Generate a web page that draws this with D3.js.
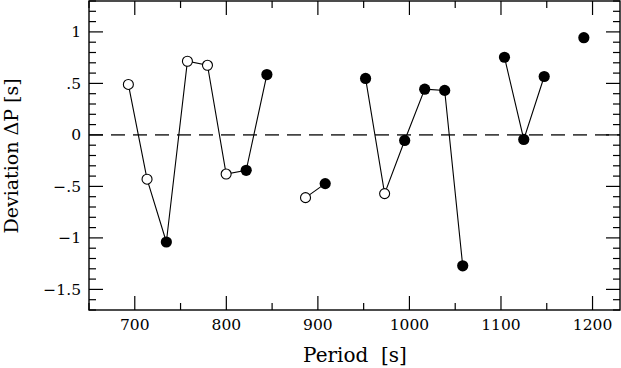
<!DOCTYPE html>
<html>
<head>
<meta charset="utf-8">
<script src="https://cdn.jsdelivr.net/npm/d3@7"></script>
<style>
  body { margin: 0; background: #fff; }
  svg { display: block; }
  text { font-family: "DejaVu Serif", serif; fill: #000; }
</style>
</head>
<body>
<svg id="chart"></svg>
<script>
// period [s], deviation [s], open marker flag, connected segment id
const periods = [693, 713.4, 734.5, 757.5, 779.4, 799.8, 821.7, 844.3,
  886.5, 908, 952.1, 972.9, 994.8, 1016.7, 1038.5, 1058.2,
  1103.8, 1124.9, 1147.2, 1190.5];
const deviations = [0.49, -0.43, -1.04, 0.715, 0.676, -0.38, -0.344, 0.586,
  -0.609, -0.473, 0.548, -0.57, -0.054, 0.444, 0.432, -1.271,
  0.754, -0.044, 0.567, 0.944];
const isOpen = [1, 1, 0, 1, 1, 1, 0, 0,
  1, 0, 0, 1, 0, 0, 0, 0,
  0, 0, 0, 0];
const segment = [0, 0, 0, 0, 0, 0, 0, 0,
  1, 1, 2, 2, 2, 2, 2, 2,
  3, 3, 3, 4];

const xTicks = [700, 800, 900, 1000, 1100, 1200];
const yTicks = [-1.5, -1, -0.5, 0, 0.5, 1];
const yTickLabels = ['\u22121.5', '\u22121', '\u2212.5', '0', '.5', '1'];

const width = 621;
const height = 368;
const margin = { left: 89, right: 1, top: 1, bottom: 58 };

const svg = d3.select('#chart')
  .attr('width', width)
  .attr('height', height);

const x = d3.scaleLinear()
  .domain([650, 1230])
  .range([margin.left, width - margin.right]);

const y = d3.scaleLinear()
  .domain([-1.7, 1.3])
  .range([height - margin.bottom, margin.top]);

const points = periods.map((p, i) => ({
  p, d: deviations[i], open: isOpen[i] === 1, seg: segment[i],
}));

// zero line
svg.append('line')
  .attr('x1', x.range()[0])
  .attr('x2', x.range()[1])
  .attr('y1', y(0))
  .attr('y2', y(0))
  .attr('stroke', '#444')
  .attr('stroke-width', 1.6)
  .attr('stroke-dasharray', '14,8');

// connecting lines
const line = d3.line()
  .x((d) => x(d.p))
  .y((d) => y(d.d));

const groups = d3.groups(points, (d) => d.seg);
svg.append('g')
  .selectAll('path')
  .data(groups)
  .join('path')
  .attr('d', (g) => line(g[1]))
  .attr('fill', 'none')
  .attr('stroke', '#000')
  .attr('stroke-width', 1.1);

// markers
svg.append('g')
  .selectAll('circle')
  .data(points)
  .join('circle')
  .attr('cx', (d) => x(d.p))
  .attr('cy', (d) => y(d.d))
  .attr('r', (d) => (d.open ? 5 : 5.6))
  .attr('fill', (d) => (d.open ? '#fff' : '#000'))
  .attr('stroke', '#000')
  .attr('stroke-width', (d) => (d.open ? 1.1 : 0));

// axes, ticks inward on all four sides
const xMinor = d3.range(650, 1231, 50);
const yMinor = d3.range(-17, 14).map((v) => v / 10);
const major = 14;
const minor = 7;

const axisG = svg.append('g').attr('stroke', '#000').attr('stroke-width', 1.2);

const addX = (vals, len) => {
  vals.forEach((v) => {
    [[y.range()[0], -len], [y.range()[1], len]].forEach(([yy, dl]) => {
      axisG.append('line')
        .attr('x1', x(v)).attr('x2', x(v))
        .attr('y1', yy).attr('y2', yy + dl);
    });
  });
};
const addY = (vals, len) => {
  vals.forEach((v) => {
    [[x.range()[0], len], [x.range()[1], -len]].forEach(([xx, dl]) => {
      axisG.append('line')
        .attr('y1', y(v)).attr('y2', y(v))
        .attr('x1', xx).attr('x2', xx + dl);
    });
  });
};
addX(xMinor.filter((v) => v % 100 !== 0), minor);
addX(xTicks, major);
addY(yMinor.filter((v) => !yTicks.some((t) => Math.abs(t - v) < 1e-6)), minor);
addY(yTicks, major);

svg.append('rect')
  .attr('x', x.range()[0])
  .attr('y', y.range()[1])
  .attr('width', x.range()[1] - x.range()[0])
  .attr('height', y.range()[0] - y.range()[1])
  .attr('fill', 'none')
  .attr('stroke', '#000')
  .attr('stroke-width', 1.4);

// tick labels
svg.append('g')
  .selectAll('text')
  .data(xTicks)
  .join('text')
  .attr('x', (d) => x(d))
  .attr('y', 330)
  .attr('text-anchor', 'middle')
  .attr('font-size', 15.5)
  .text((d) => d);

svg.append('g')
  .selectAll('text')
  .data(yTicks)
  .join('text')
  .attr('x', 81)
  .attr('y', (d) => y(d) + 5.5)
  .attr('text-anchor', 'end')
  .attr('font-size', 15.5)
  .text((d, i) => yTickLabels[i]);

// axis titles
svg.append('text')
  .attr('x', 355)
  .attr('y', 362)
  .attr('text-anchor', 'middle')
  .attr('font-size', 20)
  .style('white-space', 'pre')
  .text('Period  [s]');

svg.append('text')
  .attr('transform', 'translate(18,156) rotate(-90)')
  .attr('text-anchor', 'middle')
  .attr('font-size', 19)
  .style('white-space', 'pre')
  .text('Deviation \u0394P [s]');
</script>
</body>
</html>
